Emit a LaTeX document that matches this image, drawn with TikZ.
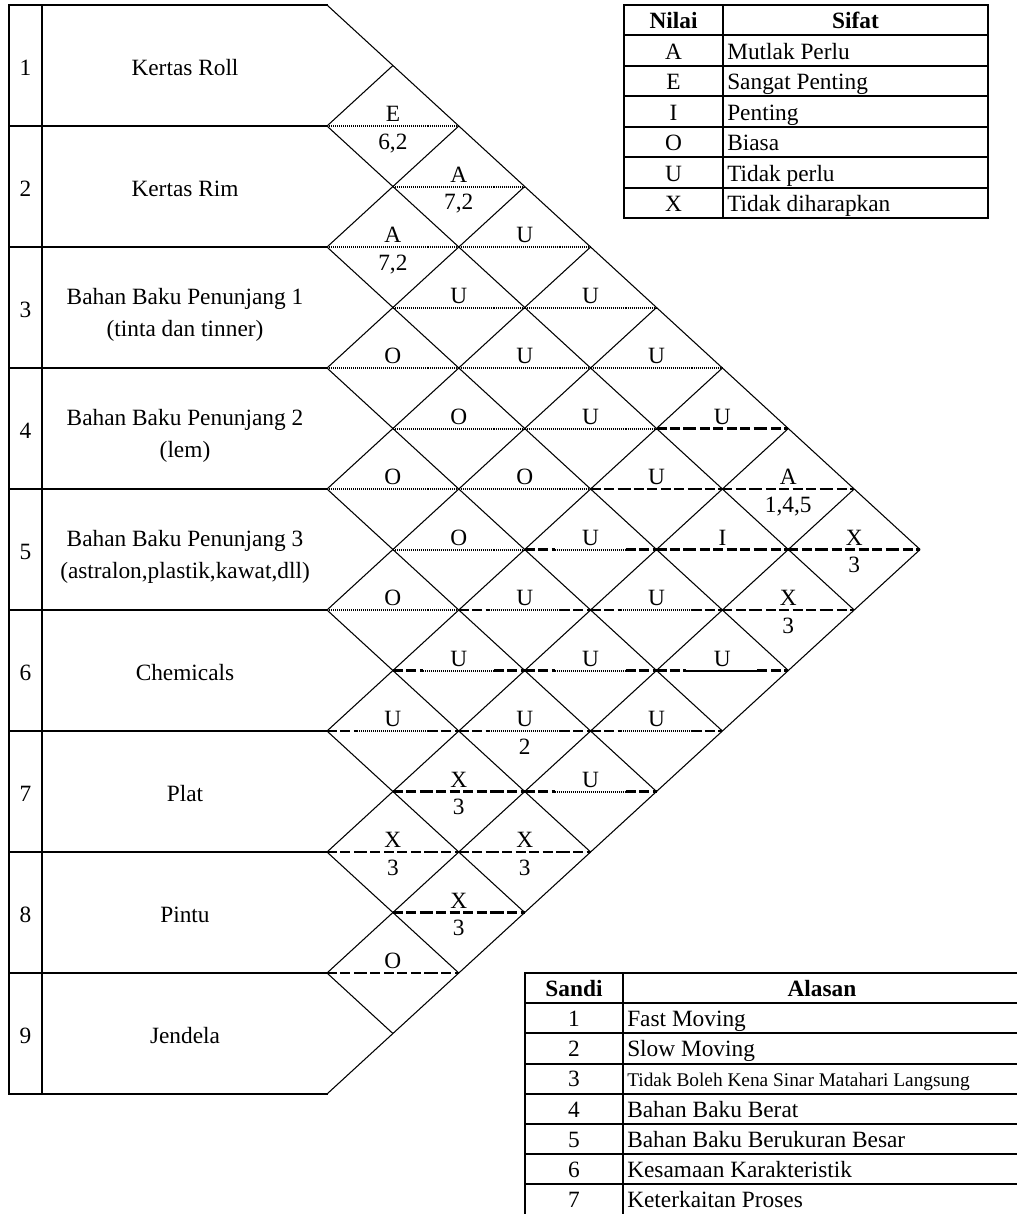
\documentclass[tikz,border=0pt]{standalone}
\usepackage{fontspec}
\setmainfont{Liberation Serif}
\begin{document}
\begin{tikzpicture}[x=0.75pt,y=-0.75pt,
  thickrule/.style={line width=2.1pt, line cap=rect},
  tabrule/.style={line width=1.5pt, line cap=rect},
  diag/.style={line width=0.8pt},
  hlDot/.style={line width=1.5pt, dash pattern=on 0.9pt off 0.6pt},
  hlDash/.style={line width=1.7pt, dash pattern=on 7.5pt off 2.6pt},
  hlLD/.style={hlDot}, hlLS/.style={hlDash}, hlLM/.style={hlDash},
  hlCD/.style={hlDot}, hlCS/.style={hlDash}, hlCM/.style={hlDot},
  hlRD/.style={hlDot}, hlRS/.style={hlDash}, hlRM/.style={hlDash},
  txt/.style={font=\fontsize{17.5}{20}\selectfont, inner sep=0pt, anchor=base},
  ltxt/.style={txt, anchor=base west},
  smalltxt/.style={font=\fontsize{14.5}{16}\selectfont, inner sep=0pt, anchor=base west}
]
\useasboundingbox (0,0) rectangle (1017,1214);

% ---------- horizontal cell lines and rating letters ----------
\foreach \i/\j/\st/\lab in {
 1/2/D/E, 1/3/D/A, 2/3/D/A, 1/4/D/U, 2/4/D/U, 1/5/D/U,
 3/4/D/O, 2/5/D/U, 1/6/D/U, 3/5/D/O, 2/6/D/U, 1/7/S/U,
 4/5/D/O, 3/6/D/O, 2/7/S/U, 1/8/S/A, 4/6/D/O, 3/7/M/U, 2/8/S/I, 1/9/S/X,
 5/6/D/O, 4/7/M/U, 3/8/M/U, 2/9/S/X, 5/7/M/U, 4/8/M/U, 3/9/M/U,
 6/7/M/U, 5/8/M/U, 4/9/M/U, 6/8/S/X, 5/9/M/U, 7/8/S/X, 6/9/S/X,
 7/9/S/X, 8/9/S/O}{
  \pgfmathsetmacro\xc{327+65.9*(\j-\i)}
  \pgfmathsetmacro\yc{5+60.5*(\i+\j-1)}
  \draw[hlL\st] (\xc-65.9,\yc) -- (\xc-36,\yc);
  \draw[hlC\st] (\xc-36,\yc) -- (\xc+35,\yc);
  \draw[hlR\st] (\xc+35,\yc) -- (\xc+65.9,\yc);
  \node[txt] (r\i-\j) at (\xc,\yc-4.5) {\lab};
}
% ---------- reason codes ----------
\foreach \i/\j/\code in {1/2/{6,2}, 1/3/{7,2}, 2/3/{7,2}, 1/8/{1,4,5},
  1/9/3, 2/9/3, 5/8/2, 6/8/3, 7/8/3, 6/9/3, 7/9/3}{
  \pgfmathsetmacro\xc{327+65.9*(\j-\i)}
  \pgfmathsetmacro\yc{5+60.5*(\i+\j-1)}
  \node[txt] (c\i-\j) at (\xc,\yc+23) {\code};
}

% ---------- diagonals ----------
\foreach \k in {0,...,8}{
  \draw[diag] (327,5+121*\k) -- ++({65.9*(9-\k)},{60.5*(9-\k)});
}
\foreach \k in {1,...,9}{
  \draw[diag] (327,5+121*\k) -- ++({65.9*\k},{-60.5*\k});
}

% ---------- left table ----------
\foreach \k in {0,...,9}{
  \draw[thickrule] (9,5+121*\k) -- (327,5+121*\k);
}
\draw[thickrule] (9,5) -- (9,1094);
\draw[thickrule] (42,5) -- (42,1094);

\foreach \k in {1,...,9}{
  \node[txt] (n\k) at (25.5,5+121*\k-60.5+10) {\k};
}
\foreach \k/\nm in {1/Kertas Roll, 2/Kertas Rim, 6/Chemicals, 7/Plat, 8/Pintu, 9/Jendela}{
  \node[txt] (name\k) at (185,5+121*\k-60.5+10) {\nm};
}
\node[txt] (name3a) at (185,308.5-4.5) {Bahan Baku Penunjang 1};
\node[txt] (name3b) at (185,308.5+27.5) {(tinta dan tinner)};
\node[txt] (name4a) at (185,429.5-4.5) {Bahan Baku Penunjang 2};
\node[txt] (name4b) at (185,429.5+27.5) {(lem)};
\node[txt] (name5a) at (185,550.5-4.5) {Bahan Baku Penunjang 3};
\node[txt] (name5b) at (185,550.5+27.5) {(astralon,plastik,kawat,dll)};

% ---------- Nilai / Sifat table ----------
\foreach \r in {0,...,7}{
  \draw[tabrule] (624,5+30.43*\r) -- (988,5+30.43*\r);
}
\foreach \xx in {624,723,988}{
  \draw[tabrule] (\xx,5) -- (\xx,218);
}
\node[txt] (nilaiH) at (673.5,35.43-6.5) {\textbf{Nilai}};
\node[txt] (sifatH) at (855.5,35.43-6.5) {\textbf{Sifat}};
\foreach \r/\a/\b in {1/A/Mutlak Perlu, 2/E/Sangat Penting, 3/I/Penting,
  4/O/Biasa, 5/U/Tidak perlu, 6/X/Tidak diharapkan}{
  \node[txt] (nv\r) at (673.5,5+30.43*\r+30.43-6.5) {\a};
  \node[ltxt] (ns\r) at (727,5+30.43*\r+30.43-6.5) {\b};
}

% ---------- Sandi / Alasan table ----------
\foreach \r in {0,...,7}{
  \draw[tabrule] (525,973+30.2*\r) -- (1017,973+30.2*\r);
}
\draw[tabrule] (525,973) -- (525,1214);
\draw[tabrule] (623,973) -- (623,1214);
\node[txt] (sandiH) at (574,1003.2-7) {\textbf{Sandi}};
\node[txt] (alasanH) at (822,1003.2-7) {\textbf{Alasan}};
\foreach \r/\a/\b in {1/1/Fast Moving, 2/2/Slow Moving, 4/4/Bahan Baku Berat,
  5/5/Bahan Baku Berukuran Besar, 6/6/Kesamaan Karakteristik, 7/7/Keterkaitan Proses}{
  \node[txt] (sv\r) at (574,973+30.2*\r+30.2-7) {\a};
  \node[ltxt] (sa\r) at (627,973+30.2*\r+30.2-7) {\b};
}
\node[txt] (sv3) at (574,973+30.2*4-7) {3};
\node[smalltxt] (sa3) at (627,973+30.2*4-7) {Tidak Boleh Kena Sinar Matahari Langsung};
\end{tikzpicture}
\end{document}
